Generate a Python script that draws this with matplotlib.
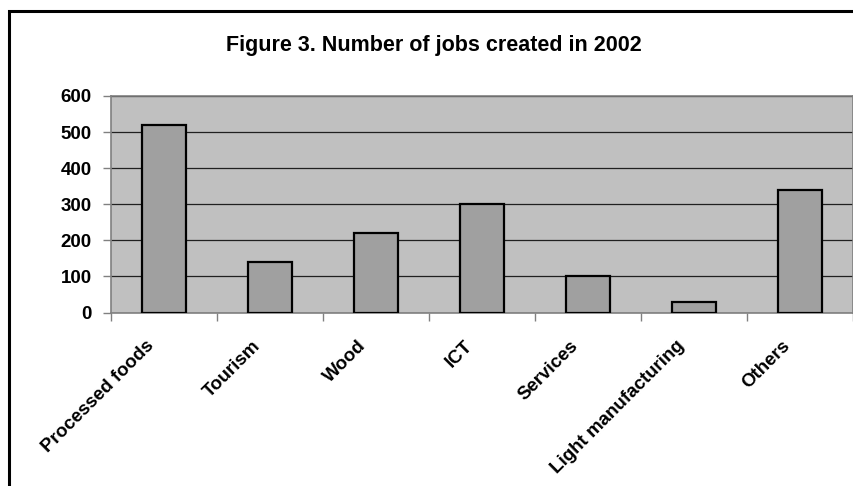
import matplotlib.pyplot as plt
from matplotlib.patches import Rectangle

categories = ["Processed foods", "Tourism", "Wood", "ICT", "Services",
              "Light manufacturing", "Others"]
jobs = [520, 140, 220, 300, 100, 30, 340]
yticks = [0, 100, 200, 300, 400, 500, 600]

plt.rcParams["font.family"] = ["Liberation Sans", "DejaVu Sans"]
plt.rcParams["font.weight"] = "bold"

fig = plt.figure(figsize=(8.54, 4.86), dpi=100)
ax = fig.add_axes([111 / 854, 1 - 312.5 / 486, (853 - 111) / 854, (312.5 - 96) / 486])

# outer chart frame, running off the right and bottom edges
fig.patches.append(Rectangle((9.5 / 854, -0.1), 1.0, 1 - 11.5 / 486 + 0.1,
                             transform=fig.transFigure, fill=False,
                             edgecolor="black", linewidth=2.2))

ax.set_facecolor("#C0C0C0")
x = list(range(len(categories)))
ax.bar(x, jobs, width=0.41, color="#A0A0A0", edgecolor="black", linewidth=1.6, zorder=3)

ax.set_xlim(-0.5, len(categories) - 0.5)
ax.set_ylim(0, 600)
ax.set_yticks(yticks)
ax.set_yticklabels([str(v) for v in yticks], fontsize=13.5, fontweight="bold")
ax.yaxis.grid(True, color="#202020", linewidth=0.9, zorder=1)
ax.set_axisbelow(True)

ax.set_xticks([i - 0.5 for i in range(len(categories) + 1)])
ax.set_xticklabels([])
ax.tick_params(axis="x", length=6, color="#808080", width=1)
ax.tick_params(axis="y", length=6, color="#808080", width=1, pad=8)
for s in ax.spines.values():
    s.set_color("#808080")
    s.set_linewidth(1.2)

for i, name in enumerate(categories):
    ax.annotate(name, xy=(i, 0), xycoords=("data", "axes fraction"),
                xytext=(-9, -22), textcoords="offset points",
                rotation=45, ha="right", va="center", rotation_mode="anchor",
                fontsize=13.5, fontweight="bold")

fig.text(434 / 854, 1 - 45 / 486, "Figure 3. Number of jobs created in 2002",
         ha="center", va="center", fontsize=15.5, fontweight="bold")

fig.savefig("out.png", dpi=100)
